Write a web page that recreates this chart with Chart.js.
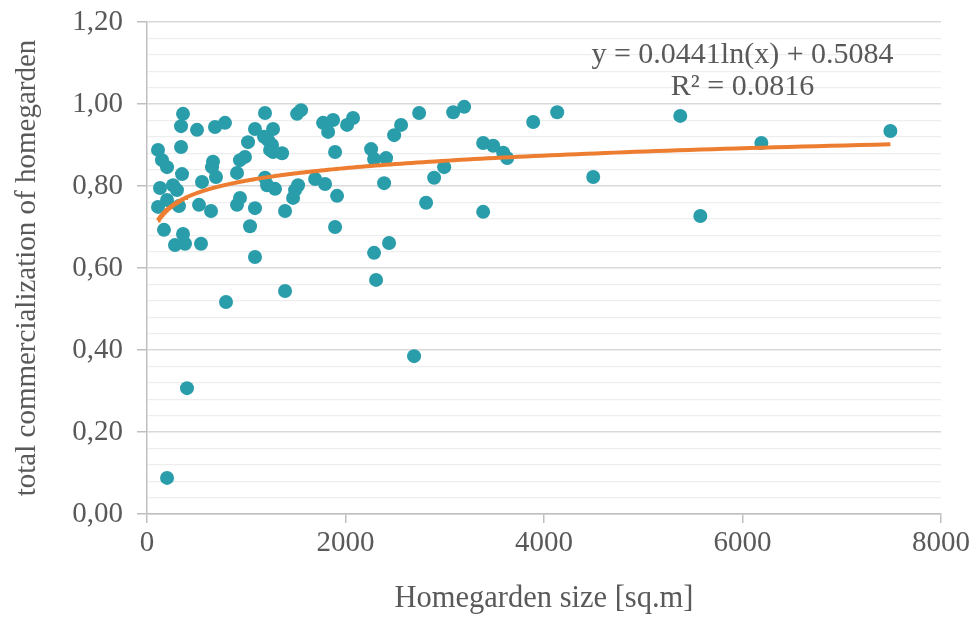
<!DOCTYPE html>
<html>
<head>
<meta charset="utf-8">
<script src="https://cdn.jsdelivr.net/npm/chart.js@4.4.0/dist/chart.umd.min.js"></script>
<style>
  html, body { margin: 0; padding: 0; background: #ffffff; }
  #wrap { width: 973px; height: 621px; position: relative; }
</style>
</head>
<body>
<div id="wrap"><canvas id="c" width="973" height="621"></canvas></div>
<script>
// Homegarden size [sq.m]
const sizes = [
  363, 343, 504, 685, 786, 343, 111, 151, 202, 665,
  655, 695, 353, 937, 907, 987, 131, 262, 302, 554,
  202, 111, 322, 524, 645, 907, 937, 171, 363, 282,
  383, 544, 1038, 1189, 1512, 1552, 1088, 1270, 1018, 1179,
  1220, 1260, 1240, 1270, 1361, 1774, 1875, 1825, 2016, 1895,
  1189, 1210, 1290, 1522, 1492, 1472, 1694, 1794, 1915, 1088,
  1391, 1895, 1088, 2076, 2258, 2288, 2409, 2389, 2560, 2490,
  2742, 3085, 3196, 2994, 2893, 2812, 2439, 2288, 2308, 796,
  1391, 403, 2691, 202, 3387, 3488, 3589, 3629, 3387, 3891,
  4133, 4496, 5373, 5575, 6190, 7490
];
// total commercialization of homegarden
const commercialization = [
  0.976, 0.946, 0.937, 0.944, 0.954, 0.895, 0.888, 0.863, 0.846, 0.859,
  0.846, 0.822, 0.829, 0.863, 0.832, 0.871, 0.795, 0.802, 0.790, 0.810,
  0.766, 0.749, 0.751, 0.754, 0.739, 0.754, 0.771, 0.693, 0.683, 0.656,
  0.659, 0.659, 0.702, 0.978, 0.976, 0.985, 0.939, 0.939, 0.907, 0.920,
  0.912, 0.900, 0.888, 0.883, 0.880, 0.954, 0.961, 0.932, 0.949, 0.883,
  0.820, 0.802, 0.793, 0.802, 0.790, 0.771, 0.817, 0.805, 0.776, 0.746,
  0.739, 0.700, 0.627, 0.966, 0.890, 0.866, 0.868, 0.807, 0.949, 0.924,
  0.978, 0.980, 0.993, 0.846, 0.820, 0.759, 0.661, 0.637, 0.571, 0.517,
  0.544, 0.307, 0.385, 0.088, 0.905, 0.898, 0.881, 0.868, 0.737, 0.956,
  0.980, 0.822, 0.971, 0.727, 0.905, 0.934
];
// Logarithmic trendline as printed on the chart
const trendSlope = 0.0441;
const trendIntercept = 0.5084;
const trendLabel = ['y = 0.0441ln(x) + 0.5084', 'R\u00B2 = 0.0816'];
const xTickValues = [0, 2000, 4000, 6000, 8000];
const xTickLabels = ['0', '2000', '4000', '6000', '8000'];
const yTickLabels = ['0,00', '0,20', '0,40', '0,60', '0,80', '1,00', '1,20'];

const points = sizes.map((s, i) => ({ x: s, y: commercialization[i] }));
const xMin = Math.min(...sizes), xMax = Math.max(...sizes);
const trend = [];
for (let k = 0; k <= 200; k++) {
  const x = xMin * Math.pow(xMax / xMin, k / 200);
  trend.push({ x: x, y: trendSlope * Math.log(x) + trendIntercept });
}

const FONT = "'Liberation Serif', 'Times New Roman', serif";
const TXT = '#595959';
const isMajor = v => Math.abs(v * 5 - Math.round(v * 5)) < 1e-6;

const labelPlugin = {
  id: 'trendLabel',
  afterDatasetsDraw(chart) {
    const { ctx, scales } = chart;
    const cx = scales.x.getPixelForValue(6000);
    ctx.save();
    ctx.fillStyle = TXT;
    ctx.font = '30px ' + FONT;
    ctx.textAlign = 'center';
    ctx.textBaseline = 'middle';
    ctx.fillText(trendLabel[0], cx, scales.y.getPixelForValue(1.118));
    ctx.fillText(trendLabel[1], cx, scales.y.getPixelForValue(1.04));
    ctx.restore();
  }
};

new Chart(document.getElementById('c'), {
  type: 'scatter',
  data: {
    datasets: [
      {
        type: 'line',
        data: trend,
        borderColor: '#ED7D31',
        borderWidth: 4,
        pointRadius: 0,
        fill: false,
        tension: 0,
        order: 0
      },
      {
        data: points,
        backgroundColor: '#2A9DAB',
        borderColor: '#2A9DAB',
        borderWidth: 0,
        pointRadius: 7,
        order: 1
      }
    ]
  },
  options: {
    responsive: false,
    animation: false,
    events: [],
    layout: { padding: { top: 22, right: 32, bottom: 0, left: 0 } },
    plugins: { legend: { display: false }, tooltip: { enabled: false } },
    scales: {
      x: {
        type: 'linear',
        min: 0, max: 8000,
        afterBuildTicks: s => { s.ticks = xTickValues.map(v => ({ value: v })); },
        afterFit: s => { s.height = 107; s.paddingLeft = 0; s.paddingRight = 0; },
        grid: { drawOnChartArea: false, drawTicks: true, tickLength: 9, tickColor: '#BFBFBF', lineWidth: 1.5 },
        border: { display: true, color: '#BFBFBF', width: 1.5 },
        ticks: {
          color: TXT, font: { family: FONT, size: 29 }, padding: 3, maxRotation: 0,
          callback: v => xTickLabels[xTickValues.indexOf(v)]
        },
        title: { display: true, text: 'Homegarden size [sq.m]', color: TXT, font: { family: FONT, size: 30.5 }, padding: { top: 0, bottom: 4 } }
      },
      y: {
        type: 'linear',
        min: 0, max: 1.2,
        ticks: {
          stepSize: 0.04,
          autoSkip: false,
          color: TXT,
          font: { family: FONT, size: 29 },
          padding: 14,
          callback: v => isMajor(v) ? yTickLabels[Math.round(v * 5)] : ''
        },
        afterFit: s => { s.width = 147; s.paddingTop = 0; s.paddingBottom = 0; },
        grid: {
          drawTicks: true,
          tickLength: 10,
          color: c => isMajor(c.tick.value) ? '#D9D9D9' : '#EEEEEE',
          lineWidth: c => isMajor(c.tick.value) ? 1.5 : 1.2,
          tickColor: c => isMajor(c.tick.value) ? '#BFBFBF' : 'rgba(0,0,0,0)'
        },
        border: { display: true, color: '#BFBFBF', width: 1.5 },
        title: { display: true, text: 'total commercialization of homegarden', color: TXT, font: { family: FONT, size: 29 }, padding: { top: 10, bottom: 0 } }
      }
    }
  },
  plugins: [labelPlugin]
});
</script>
</body>
</html>
